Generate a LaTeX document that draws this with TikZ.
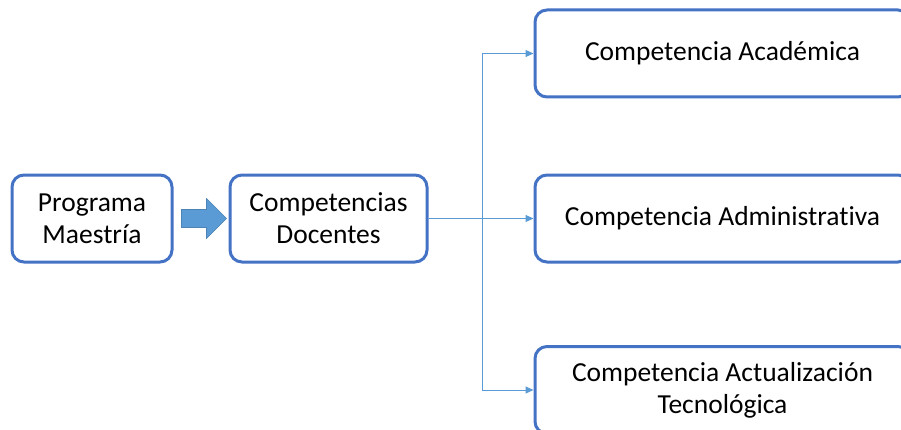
\documentclass[tikz,border=0pt]{standalone}
\usepackage{fontspec}
\setmainfont{Carlito}[Ligatures=NoCommon]
\usetikzlibrary{arrows.meta,calc}
\definecolor{boxline}{HTML}{4472C4}
\definecolor{linkblue}{HTML}{5B9BD5}
\tikzset{
  box/.style={draw=boxline, line width=3pt, rounded corners=12pt, fill=white,
    align=center, text=black, inner sep=0pt,
    font=\fontsize{27.5}{32}\selectfont},
  link/.style={draw=linkblue, line width=1pt,
    -{Triangle[length=8pt,width=7pt]}},
  blockarrow/.style={fill=linkblue, draw=linkblue!85!black, line width=0.6pt}
}
\begin{document}
\begin{tikzpicture}[x=1pt,y=1pt]
  \useasboundingbox (0,0) rectangle (901,429);
  \clip (0,0) rectangle (901,429);
  % left column
  \node[box, minimum width=160pt, minimum height=87pt] (prog) at (92,210.5) {Programa\\Maestría};
  \node[box, minimum width=197pt, minimum height=87pt] (doc) at (328.5,210.5) {Competencias\\Docentes};
  % right column (boxes run past the right edge)
  \node[box, minimum width=375pt, minimum height=87pt] (acad) at (722.5,375.5) {Competencia Académica};
  \node[box, minimum width=375pt, minimum height=87pt] (admin) at (722.5,210.5) {Competencia Administrativa};
  \node[box, minimum width=375pt, minimum height=87pt] (tec) at (722.5,39) {Competencia Actualización\\Tecnológica};
  % block arrow between the first two boxes
  \path (prog.east) ++(8,0) coordinate (ba);
  \draw[blockarrow] (ba) ++(0,-9) -- ++(25,0) -- ++(0,-11) -- ++(20,20) -- ++(-20,20)
    -- ++(0,-11) -- ++(-25,0) -- cycle;
  % branching connectors
  \coordinate (fork) at ($(doc.east)+(54,0)$);
  \draw[link] (doc.east) -- (admin.west);
  \draw[link] (fork) |- (acad.west);
  \draw[link] (fork) |- (tec.west);
\end{tikzpicture}
\end{document}
